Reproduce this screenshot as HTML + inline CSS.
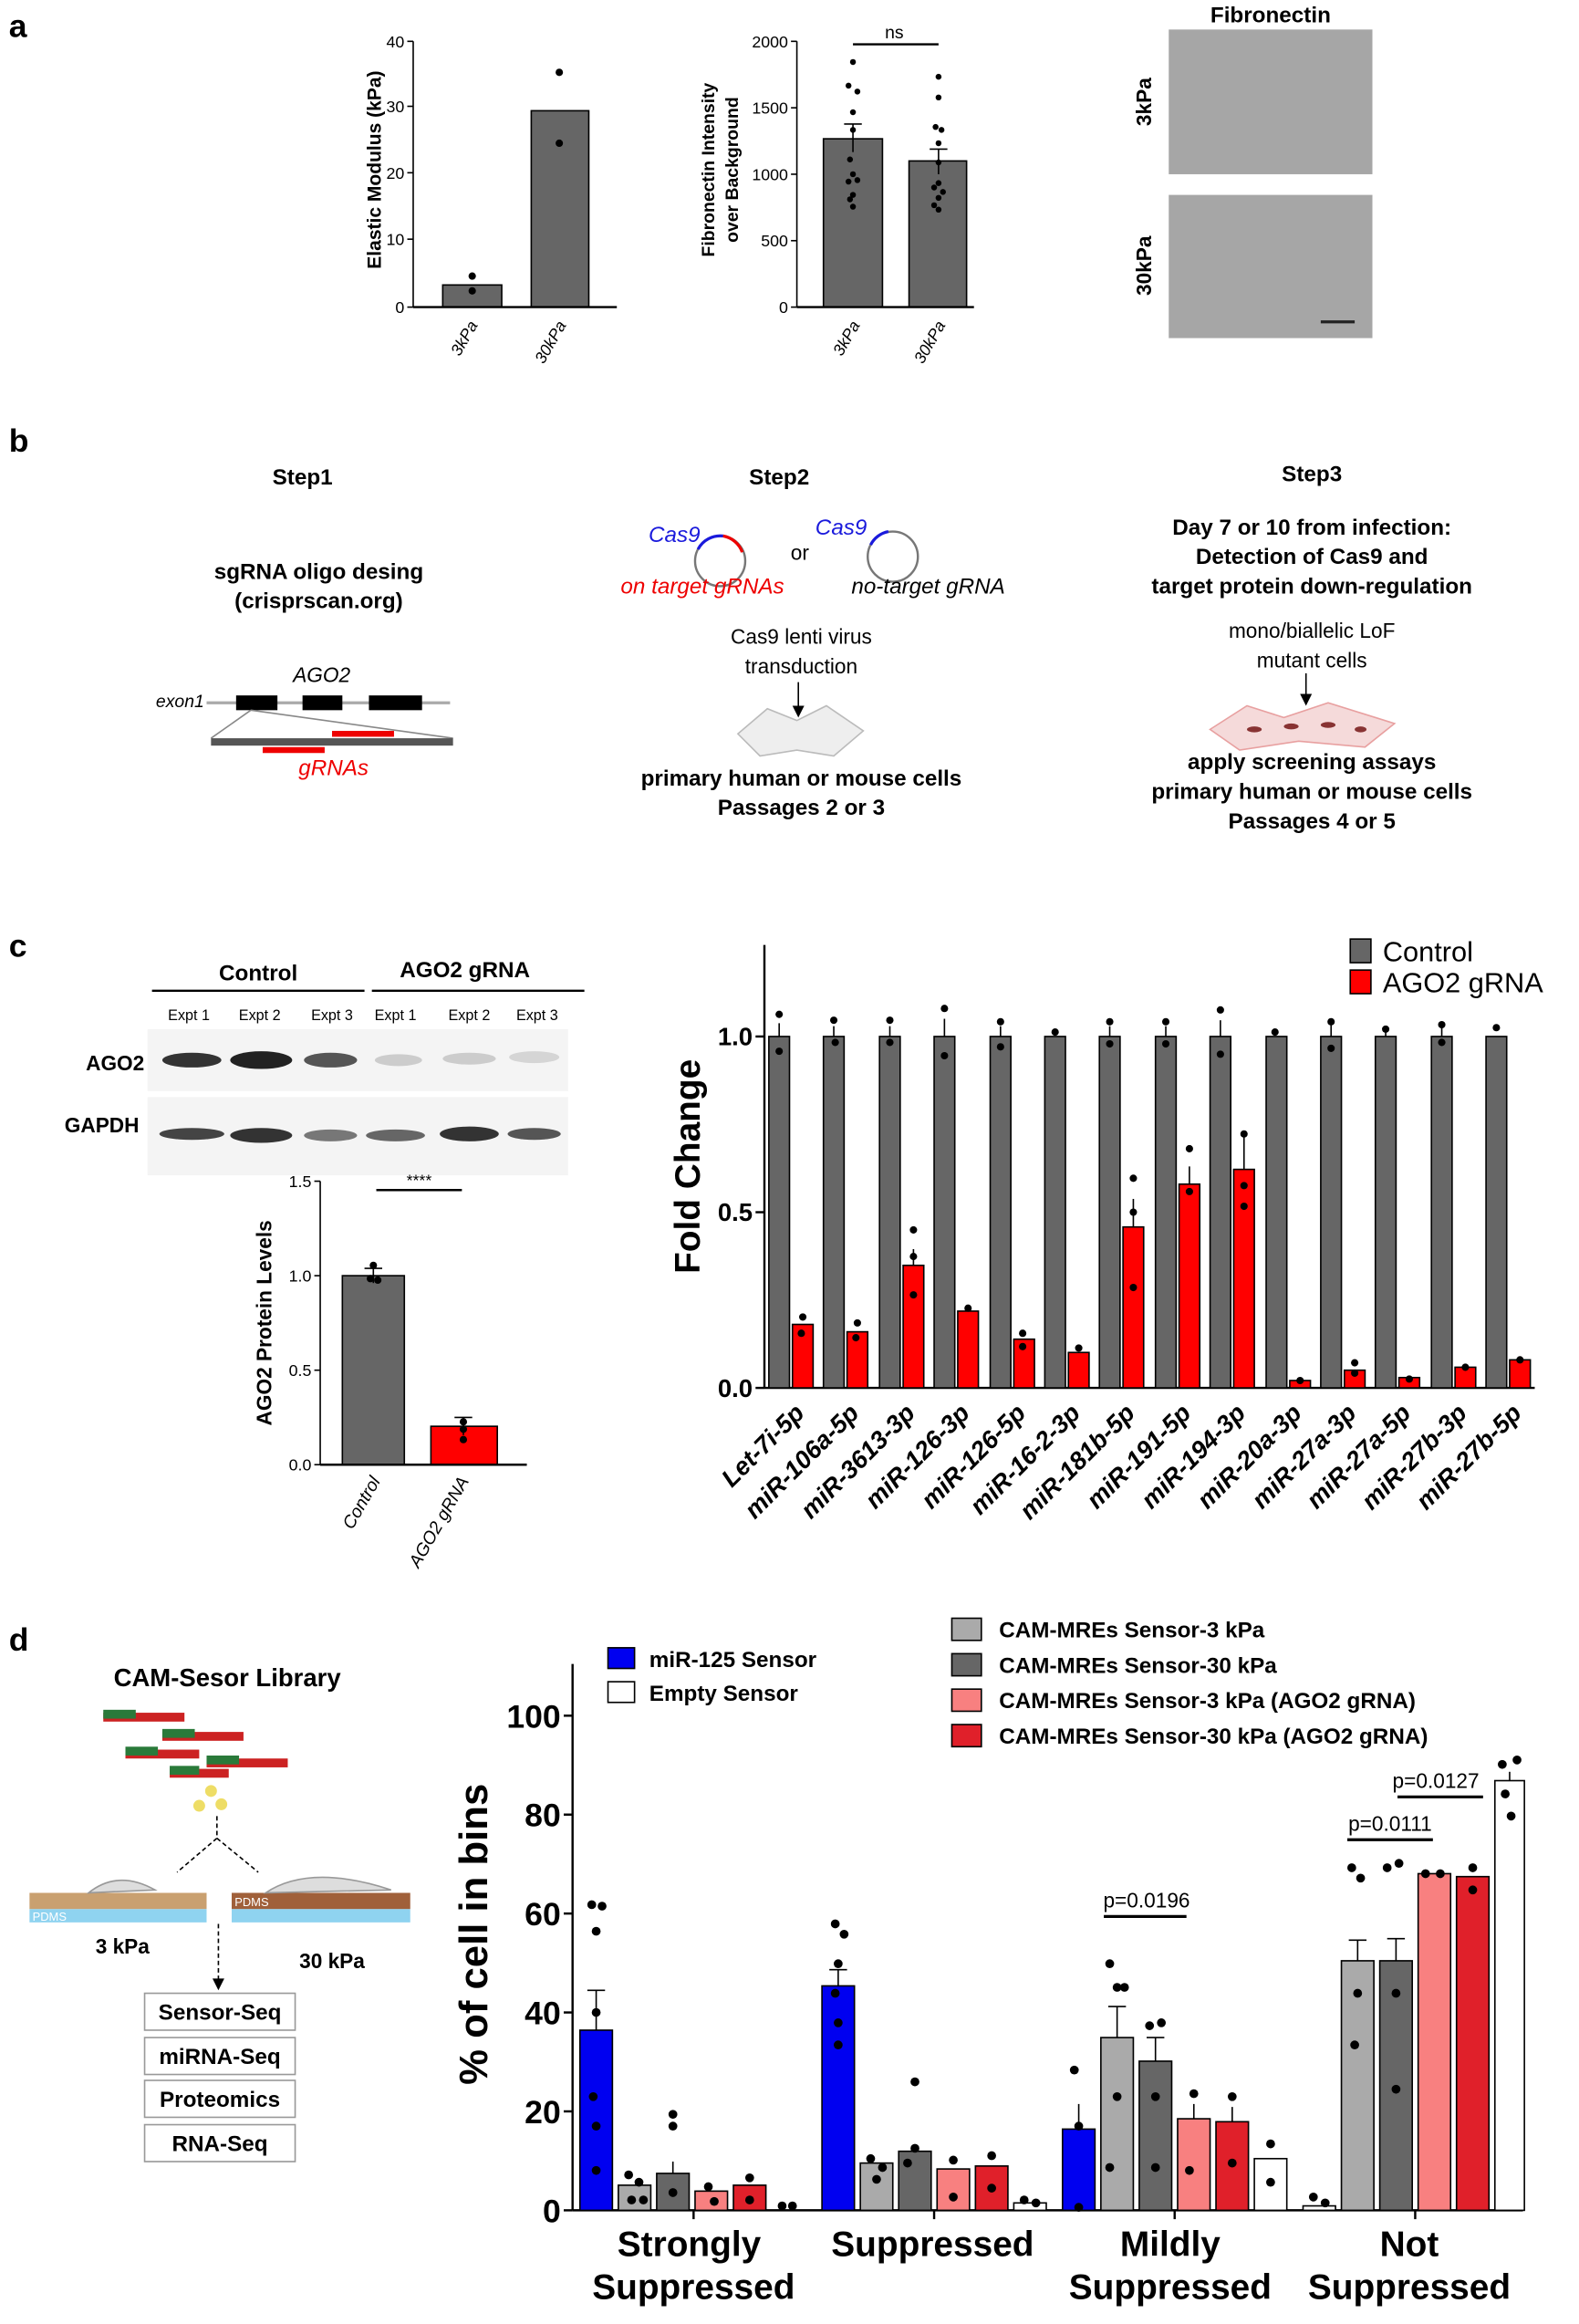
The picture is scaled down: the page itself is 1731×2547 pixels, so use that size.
<!DOCTYPE html>
<html><head><meta charset="utf-8"><style>
html,body{margin:0;padding:0;background:#fff;}
svg{display:block;}
text{font-family:"Liberation Sans",Arial,sans-serif;}
</style></head><body>
<svg width="1731" height="2547" viewBox="0 0 1070 1574" preserveAspectRatio="none" xmlns="http://www.w3.org/2000/svg">
<!-- Panel a -->
<text x="6" y="25" font-size="22" font-weight="bold">a</text>
<g stroke="#000" stroke-width="1">
<line x1="280" y1="28" x2="280" y2="208"/>
<line x1="276" y1="28" x2="280" y2="28"/><line x1="276" y1="72" x2="280" y2="72"/><line x1="276" y1="117" x2="280" y2="117"/><line x1="276" y1="162" x2="280" y2="162"/><line x1="276" y1="208" x2="280" y2="208"/>
</g>
<g font-size="11" text-anchor="end"><text x="274" y="32">40</text><text x="274" y="76">30</text><text x="274" y="121">20</text><text x="274" y="166">10</text><text x="274" y="212">0</text></g>
<rect x="300" y="193" width="40" height="15" fill="#666" stroke="#000"/>
<rect x="360" y="75" width="39" height="133" fill="#666" stroke="#000"/>
<line x1="280" y1="208" x2="418" y2="208" stroke="#000" stroke-width="1.5"/>
<g fill="#000"><circle cx="320" cy="187" r="2.5"/><circle cx="320" cy="197" r="2.5"/><circle cx="379" cy="49" r="2.5"/><circle cx="379" cy="97" r="2.5"/></g>
<text transform="translate(258,115) rotate(-90)" font-size="13" font-weight="bold" text-anchor="middle">Elastic Modulus (kPa)</text>
<text transform="translate(324,220) rotate(-60)" font-size="11" font-style="italic" text-anchor="end">3kPa</text>
<text transform="translate(384,220) rotate(-60)" font-size="11" font-style="italic" text-anchor="end">30kPa</text>

<g stroke="#000" stroke-width="1">
<line x1="540" y1="28" x2="540" y2="208"/>
<line x1="536" y1="28" x2="540" y2="28"/><line x1="536" y1="73" x2="540" y2="73"/><line x1="536" y1="118" x2="540" y2="118"/><line x1="536" y1="163" x2="540" y2="163"/><line x1="536" y1="208" x2="540" y2="208"/>
</g>
<g font-size="11" text-anchor="end"><text x="534" y="32">2000</text><text x="534" y="77">1500</text><text x="534" y="122">1000</text><text x="534" y="167">500</text><text x="534" y="212">0</text></g>
<rect x="558" y="94" width="40" height="114" fill="#666" stroke="#000"/>
<rect x="616" y="109" width="39" height="99" fill="#666" stroke="#000"/>
<line x1="540" y1="208" x2="660" y2="208" stroke="#000" stroke-width="1.5"/>
<g stroke="#000"><line x1="578" y1="84" x2="578" y2="103"/><line x1="572" y1="84" x2="584" y2="84"/><line x1="636" y1="101" x2="636" y2="118"/><line x1="630" y1="101" x2="642" y2="101"/></g>
<g fill="#000"><circle cx="578" cy="42" r="2"/><circle cx="575" cy="58" r="2"/><circle cx="581" cy="62" r="2"/><circle cx="578" cy="76" r="2"/><circle cx="578" cy="88" r="2"/><circle cx="576" cy="108" r="2"/><circle cx="578" cy="118" r="2"/><circle cx="581" cy="122" r="2"/><circle cx="575" cy="123" r="2"/><circle cx="578" cy="132" r="2"/><circle cx="576" cy="135" r="2"/><circle cx="578" cy="140" r="2"/>
<circle cx="636" cy="52" r="2"/><circle cx="636" cy="66" r="2"/><circle cx="634" cy="86" r="2"/><circle cx="638" cy="88" r="2"/><circle cx="636" cy="97" r="2"/><circle cx="636" cy="110" r="2"/><circle cx="636" cy="124" r="2"/><circle cx="633" cy="127" r="2"/><circle cx="639" cy="130" r="2"/><circle cx="636" cy="134" r="2"/><circle cx="633" cy="139" r="2"/><circle cx="636" cy="142" r="2"/></g>
<line x1="578" y1="30" x2="636" y2="30" stroke="#000" stroke-width="1.5"/>
<text x="606" y="26" font-size="12" text-anchor="middle">ns</text>
<text transform="translate(484,115) rotate(-90)" font-size="12" font-weight="bold" text-anchor="middle">Fibronectin Intensity</text>
<text transform="translate(500,115) rotate(-90)" font-size="12" font-weight="bold" text-anchor="middle">over Background</text>
<text transform="translate(583,220) rotate(-60)" font-size="11" font-style="italic" text-anchor="end">3kPa</text>
<text transform="translate(641,220) rotate(-60)" font-size="11" font-style="italic" text-anchor="end">30kPa</text>

<text x="861" y="15" font-size="15" font-weight="bold" text-anchor="middle">Fibronectin</text>
<rect x="792" y="20" width="138" height="98" fill="#a6a6a6"/>
<rect x="792" y="132" width="138" height="97" fill="#a6a6a6"/>
<line x1="895" y1="218" x2="918" y2="218" stroke="#222" stroke-width="2"/>
<text transform="translate(780,69) rotate(-90)" font-size="14" font-weight="bold" text-anchor="middle">3kPa</text>
<text transform="translate(780,180) rotate(-90)" font-size="14" font-weight="bold" text-anchor="middle">30kPa</text>

<!-- Panel b -->
<text x="6" y="306" font-size="22" font-weight="bold">b</text>
<g font-size="15" font-weight="bold" text-anchor="middle">
<text x="205" y="328">Step1</text><text x="528" y="328">Step2</text><text x="889" y="326">Step3</text>
<text x="216" y="392">sgRNA oligo desing</text><text x="216" y="412">(crisprscan.org)</text>
<text x="543" y="532">primary human or mouse cells</text><text x="543" y="552">Passages 2 or 3</text>
<text x="889" y="362">Day 7 or 10 from infection:</text><text x="889" y="382">Detection of Cas9 and</text><text x="889" y="402">target protein down-regulation</text>
<text x="889" y="521">apply screening assays</text><text x="889" y="541">primary human or mouse cells</text><text x="889" y="561">Passages 4 or 5</text>
</g>
<g font-size="14" text-anchor="middle">
<text x="218" y="462" font-style="italic">AGO2</text>
<text x="543" y="436">Cas9 lenti virus</text><text x="543" y="456">transduction</text>
<text x="889" y="432">mono/biallelic LoF</text><text x="889" y="452">mutant cells</text>
<text x="542" y="379">or</text>
</g>
<text x="122" y="479" font-size="12" font-style="italic" text-anchor="middle">exon1</text>
<line x1="140" y1="476" x2="305" y2="476" stroke="#aaa" stroke-width="2"/>
<rect x="160" y="471" width="28" height="10" fill="#000"/><rect x="205" y="471" width="27" height="10" fill="#000"/><rect x="250" y="471" width="36" height="10" fill="#000"/>
<line x1="170" y1="481" x2="143" y2="500" stroke="#888"/><line x1="170" y1="481" x2="307" y2="500" stroke="#888"/>
<rect x="143" y="500" width="164" height="5" fill="#555"/>
<rect x="225" y="495" width="42" height="4" fill="#e00"/><rect x="178" y="506" width="42" height="4" fill="#e00"/>
<text x="226" y="525" font-size="15" font-style="italic" fill="#e00" text-anchor="middle">gRNAs</text>
<text x="457" y="367" font-size="15" font-style="italic" fill="#1a1adc" text-anchor="middle">Cas9</text>
<circle cx="488" cy="380" r="17" fill="none" stroke="#777" stroke-width="1.5"/>
<path d="M473 372 A17 17 0 0 1 490 363" stroke="#1a1adc" stroke-width="2" fill="none"/>
<path d="M490 363 A17 17 0 0 1 503 374" stroke="#e00" stroke-width="2" fill="none"/>
<text x="570" y="362" font-size="15" font-style="italic" fill="#1a1adc" text-anchor="middle">Cas9</text>
<circle cx="605" cy="377" r="17" fill="none" stroke="#777" stroke-width="1.5"/>
<path d="M590 369 A17 17 0 0 1 602 360" stroke="#1a1adc" stroke-width="2" fill="none"/>
<text x="476" y="402" font-size="15" font-style="italic" fill="#e00" text-anchor="middle">on target gRNAs</text>
<text x="629" y="402" font-size="15" font-style="italic" text-anchor="middle">no-target gRNA</text>
<line x1="541" y1="462" x2="541" y2="482" stroke="#000"/><path d="M537 478 L541 486 L545 478Z"/>
<g fill="#eee" stroke="#bbb"><path d="M500 497 L520 480 L540 488 L560 478 L585 495 L565 512 L540 508 L515 512Z"/></g>
<line x1="885" y1="456" x2="885" y2="474" stroke="#000"/><path d="M881 470 L885 478 L889 470Z"/>
<g fill="#f5dada" stroke="#e8a0a0"><path d="M820 494 L845 478 L870 486 L900 476 L945 490 L925 506 L880 502 L840 508Z"/></g>
<g fill="#833"><ellipse cx="850" cy="494" rx="5" ry="2"/><ellipse cx="875" cy="492" rx="5" ry="2"/><ellipse cx="900" cy="491" rx="5" ry="2"/><ellipse cx="922" cy="494" rx="4" ry="2"/></g>

<!-- Panel c blot -->
<text x="6" y="648" font-size="22" font-weight="bold">c</text>
<g font-size="15" font-weight="bold" text-anchor="middle"><text x="175" y="664">Control</text><text x="315" y="662">AGO2 gRNA</text></g>
<line x1="103" y1="671" x2="247" y2="671" stroke="#000" stroke-width="1.5"/><line x1="252" y1="671" x2="396" y2="671" stroke="#000" stroke-width="1.5"/>
<g font-size="10" text-anchor="middle"><text x="128" y="691">Expt 1</text><text x="176" y="691">Expt 2</text><text x="225" y="691">Expt 3</text><text x="268" y="691">Expt 1</text><text x="318" y="691">Expt 2</text><text x="364" y="691">Expt 3</text></g>
<rect x="100" y="697" width="285" height="42" fill="#f4f4f4"/>
<rect x="100" y="743" width="285" height="53" fill="#f4f4f4"/>
<text x="78" y="725" font-size="14" font-weight="bold" text-anchor="middle">AGO2</text>
<text x="69" y="767" font-size="14" font-weight="bold" text-anchor="middle">GAPDH</text>
<g><ellipse cx="130" cy="718" rx="20" ry="5" fill="#333"/><ellipse cx="177" cy="718" rx="21" ry="6" fill="#222"/><ellipse cx="224" cy="718" rx="18" ry="5" fill="#555"/>
<ellipse cx="270" cy="718" rx="16" ry="4" fill="#ccc"/><ellipse cx="318" cy="717" rx="18" ry="4" fill="#ccc"/><ellipse cx="362" cy="716" rx="17" ry="4" fill="#d5d5d5"/>
<ellipse cx="130" cy="768" rx="22" ry="4" fill="#444"/><ellipse cx="177" cy="769" rx="21" ry="5" fill="#333"/><ellipse cx="224" cy="769" rx="18" ry="4" fill="#777"/>
<ellipse cx="268" cy="769" rx="20" ry="4" fill="#666"/><ellipse cx="318" cy="768" rx="20" ry="5" fill="#333"/><ellipse cx="362" cy="768" rx="18" ry="4" fill="#555"/></g>
<!-- small chart -->
<g stroke="#000"><line x1="217" y1="800" x2="217" y2="992"/>
<line x1="213" y1="800" x2="217" y2="800"/><line x1="213" y1="864" x2="217" y2="864"/><line x1="213" y1="928" x2="217" y2="928"/><line x1="213" y1="992" x2="217" y2="992"/></g>
<g font-size="11" text-anchor="end"><text x="211" y="804">1.5</text><text x="211" y="868">1.0</text><text x="211" y="932">0.5</text><text x="211" y="996">0.0</text></g>
<rect x="232" y="864" width="42" height="128" fill="#666" stroke="#000"/>
<rect x="292" y="966" width="45" height="26" fill="#f00" stroke="#000"/>
<line x1="217" y1="992" x2="357" y2="992" stroke="#000" stroke-width="1.5"/>
<g stroke="#000"><line x1="253" y1="859" x2="253" y2="869"/><line x1="247" y1="859" x2="259" y2="859"/><line x1="314" y1="960" x2="314" y2="972"/><line x1="308" y1="960" x2="320" y2="960"/></g>
<g fill="#000"><circle cx="253" cy="857" r="2.5"/><circle cx="251" cy="866" r="2.5"/><circle cx="256" cy="867" r="2.5"/><circle cx="314" cy="963" r="2.5"/><circle cx="314" cy="968" r="2.5"/><circle cx="314" cy="975" r="2.5"/></g>
<line x1="255" y1="806" x2="313" y2="806" stroke="#000" stroke-width="1.5"/>
<text x="284" y="803" font-size="11" text-anchor="middle">****</text>
<text transform="translate(184,896) rotate(-90)" font-size="14" font-weight="bold" text-anchor="middle">AGO2 Protein Levels</text>
<text transform="translate(258,1003) rotate(-60)" font-size="12" font-style="italic" text-anchor="end">Control</text>
<text transform="translate(318,1003) rotate(-60)" font-size="12" font-style="italic" text-anchor="end">AGO2 gRNA</text>

<!-- big chart c -->
<g stroke="#000" stroke-width="1.5"><line x1="518" y1="640" x2="518" y2="940"/><line x1="518" y1="940" x2="1040" y2="940"/>
<line x1="512" y1="702" x2="518" y2="702"/><line x1="512" y1="821" x2="518" y2="821"/><line x1="512" y1="940" x2="518" y2="940"/></g>
<g font-size="17" font-weight="bold" text-anchor="end"><text x="510" y="708">1.0</text><text x="510" y="827">0.5</text><text x="510" y="946">0.0</text></g>
<text transform="translate(474,790) rotate(-90)" font-size="24" font-weight="bold" text-anchor="middle">Fold Change</text>
<g fill="#666" stroke="#000">
<rect x="521" y="702" width="14" height="238"/><rect x="558" y="702" width="14" height="238"/><rect x="596" y="702" width="14" height="238"/><rect x="633" y="702" width="14" height="238"/><rect x="671" y="702" width="14" height="238"/><rect x="708" y="702" width="14" height="238"/><rect x="745" y="702" width="14" height="238"/><rect x="783" y="702" width="14" height="238"/><rect x="820" y="702" width="14" height="238"/><rect x="858" y="702" width="14" height="238"/><rect x="895" y="702" width="14" height="238"/><rect x="932" y="702" width="14" height="238"/><rect x="970" y="702" width="14" height="238"/><rect x="1007" y="702" width="14" height="238"/>
</g>
<g fill="#f00" stroke="#000">
<rect x="537" y="897" width="14" height="43"/><rect x="574" y="902" width="14" height="38"/><rect x="612" y="857" width="14" height="83"/><rect x="649" y="888" width="14" height="52"/><rect x="687" y="907" width="14" height="33"/><rect x="724" y="916" width="14" height="24"/><rect x="761" y="831" width="14" height="109"/><rect x="799" y="802" width="14" height="138"/><rect x="836" y="792" width="14" height="148"/><rect x="874" y="935" width="14" height="5"/><rect x="911" y="928" width="14" height="12"/><rect x="948" y="933" width="14" height="7"/><rect x="986" y="926" width="14" height="14"/><rect x="1023" y="921" width="14" height="19"/>
</g>
<g stroke="#000"><line x1="528" y1="693" x2="528" y2="702"/><line x1="565" y1="695" x2="565" y2="702"/><line x1="603" y1="695" x2="603" y2="702"/><line x1="640" y1="690" x2="640" y2="702"/><line x1="678" y1="695" x2="678" y2="702"/><line x1="752" y1="695" x2="752" y2="702"/><line x1="790" y1="695" x2="790" y2="702"/><line x1="827" y1="691" x2="827" y2="702"/><line x1="902" y1="694" x2="902" y2="702"/><line x1="939" y1="696" x2="939" y2="702"/><line x1="977" y1="696" x2="977" y2="702"/>
<line x1="619" y1="846" x2="619" y2="857"/><line x1="768" y1="812" x2="768" y2="831"/><line x1="806" y1="790" x2="806" y2="802"/><line x1="843" y1="766" x2="843" y2="792"/></g>
<g fill="#000">
<circle cx="528" cy="687" r="2.5"/><circle cx="528" cy="712" r="2.5"/><circle cx="565" cy="691" r="2.5"/><circle cx="566" cy="706" r="2.5"/><circle cx="603" cy="691" r="2.5"/><circle cx="603" cy="706" r="2.5"/><circle cx="640" cy="683" r="2.5"/><circle cx="640" cy="715" r="2.5"/><circle cx="678" cy="692" r="2.5"/><circle cx="678" cy="709" r="2.5"/><circle cx="715" cy="699" r="2.5"/><circle cx="752" cy="692" r="2.5"/><circle cx="752" cy="707" r="2.5"/><circle cx="790" cy="692" r="2.5"/><circle cx="790" cy="707" r="2.5"/><circle cx="827" cy="684" r="2.5"/><circle cx="827" cy="714" r="2.5"/><circle cx="864" cy="699" r="2.5"/><circle cx="902" cy="692" r="2.5"/><circle cx="902" cy="710" r="2.5"/><circle cx="939" cy="697" r="2.5"/><circle cx="977" cy="694" r="2.5"/><circle cx="977" cy="706" r="2.5"/><circle cx="1014" cy="696" r="2.5"/>
<circle cx="544" cy="892" r="2.5"/><circle cx="543" cy="903" r="2.5"/><circle cx="581" cy="896" r="2.5"/><circle cx="580" cy="906" r="2.5"/><circle cx="619" cy="833" r="2.5"/><circle cx="619" cy="851" r="2.5"/><circle cx="619" cy="877" r="2.5"/><circle cx="656" cy="886" r="2.5"/><circle cx="693" cy="903" r="2.5"/><circle cx="693" cy="912" r="2.5"/><circle cx="731" cy="913" r="2.5"/><circle cx="768" cy="798" r="2.5"/><circle cx="768" cy="821" r="2.5"/><circle cx="768" cy="872" r="2.5"/><circle cx="806" cy="778" r="2.5"/><circle cx="806" cy="807" r="2.5"/><circle cx="843" cy="768" r="2.5"/><circle cx="843" cy="803" r="2.5"/><circle cx="843" cy="817" r="2.5"/><circle cx="881" cy="935" r="2.5"/><circle cx="918" cy="923" r="2.5"/><circle cx="918" cy="930" r="2.5"/><circle cx="955" cy="934" r="2.5"/><circle cx="993" cy="926" r="2.5"/><circle cx="1030" cy="921" r="2.5"/>
</g>
<g font-size="17" font-weight="bold" font-style="italic" text-anchor="end">
<text transform="translate(546,958) rotate(-45)">Let-7i-5p</text>
<text transform="translate(583,958) rotate(-45)">miR-106a-5p</text>
<text transform="translate(621,958) rotate(-45)">miR-3613-3p</text>
<text transform="translate(658,958) rotate(-45)">miR-126-3p</text>
<text transform="translate(696,958) rotate(-45)">miR-126-5p</text>
<text transform="translate(733,958) rotate(-45)">miR-16-2-3p</text>
<text transform="translate(770,958) rotate(-45)">miR-181b-5p</text>
<text transform="translate(808,958) rotate(-45)">miR-191-5p</text>
<text transform="translate(845,958) rotate(-45)">miR-194-3p</text>
<text transform="translate(883,958) rotate(-45)">miR-20a-3p</text>
<text transform="translate(920,958) rotate(-45)">miR-27a-3p</text>
<text transform="translate(957,958) rotate(-45)">miR-27a-5p</text>
<text transform="translate(995,958) rotate(-45)">miR-27b-3p</text>
<text transform="translate(1032,958) rotate(-45)">miR-27b-5p</text>
</g>
<rect x="915" y="636" width="14" height="16" fill="#666" stroke="#000"/><text x="937" y="651" font-size="19">Control</text>
<rect x="915" y="657" width="14" height="16" fill="#f00" stroke="#000"/><text x="937" y="672" font-size="19">AGO2 gRNA</text>

<!-- Panel d -->
<text x="6" y="1118" font-size="22" font-weight="bold">d</text>
<text x="154" y="1142" font-size="17" font-weight="bold" text-anchor="middle">CAM-Sesor Library</text>
<g><rect x="70" y="1160" width="55" height="6" fill="#c22"/><rect x="70" y="1158" width="22" height="6" fill="#2a7a3a"/>
<rect x="110" y="1173" width="55" height="6" fill="#c22"/><rect x="110" y="1171" width="22" height="6" fill="#2a7a3a"/>
<rect x="85" y="1185" width="50" height="6" fill="#c22"/><rect x="85" y="1183" width="22" height="6" fill="#2a7a3a"/>
<rect x="140" y="1191" width="55" height="6" fill="#c22"/><rect x="140" y="1189" width="22" height="6" fill="#2a7a3a"/>
<rect x="115" y="1198" width="40" height="6" fill="#c22"/><rect x="115" y="1196" width="20" height="6" fill="#2a7a3a"/></g>
<g fill="#eedd66"><circle cx="143" cy="1213" r="4"/><circle cx="135" cy="1223" r="4"/><circle cx="150" cy="1222" r="4"/></g>
<path d="M147 1230 L147 1245 M147 1245 L120 1268 M147 1245 L175 1268 M148 1303 L148 1343" stroke="#000" stroke-dasharray="3,2" fill="none"/>
<path d="M144 1340 L148 1348 L152 1340Z"/>
<rect x="20" y="1282" width="120" height="11" fill="#c9a070"/><rect x="20" y="1293" width="120" height="9" fill="#8fd3f0"/>
<rect x="157" y="1282" width="121" height="11" fill="#a0603a"/><rect x="157" y="1293" width="121" height="9" fill="#8fd3f0"/>
<path d="M60 1282 Q80 1266 105 1280Z" fill="#ddd" stroke="#999"/><path d="M180 1282 Q210 1262 265 1280Z" fill="#ddd" stroke="#999"/>
<text x="22" y="1301" font-size="8" fill="#fff">PDMS</text><text x="159" y="1291" font-size="8" fill="#fff">PDMS</text>
<text x="83" y="1323" font-size="14" font-weight="bold" text-anchor="middle">3 kPa</text>
<text x="225" y="1333" font-size="14" font-weight="bold" text-anchor="middle">30 kPa</text>
<g fill="#fff" stroke="#999"><rect x="98" y="1350" width="102" height="25"/><rect x="98" y="1380" width="102" height="25"/><rect x="98" y="1409" width="102" height="25"/><rect x="98" y="1439" width="102" height="25"/></g>
<g font-size="15" font-weight="bold" text-anchor="middle"><text x="149" y="1368">Sensor-Seq</text><text x="149" y="1398">miRNA-Seq</text><text x="149" y="1427">Proteomics</text><text x="149" y="1457">RNA-Seq</text></g>

<g stroke="#000" stroke-width="1.5"><line x1="388" y1="1127" x2="388" y2="1497"/><line x1="388" y1="1497" x2="1032" y2="1497"/>
<line x1="382" y1="1162" x2="388" y2="1162"/><line x1="382" y1="1229" x2="388" y2="1229"/><line x1="382" y1="1296" x2="388" y2="1296"/><line x1="382" y1="1363" x2="388" y2="1363"/><line x1="382" y1="1430" x2="388" y2="1430"/><line x1="382" y1="1497" x2="388" y2="1497"/>
<line x1="470" y1="1497" x2="470" y2="1503"/><line x1="633" y1="1497" x2="633" y2="1503"/><line x1="796" y1="1497" x2="796" y2="1503"/><line x1="959" y1="1497" x2="959" y2="1503"/></g>
<g font-size="22" font-weight="bold" text-anchor="end"><text x="380" y="1170">100</text><text x="380" y="1237">80</text><text x="380" y="1304">60</text><text x="380" y="1371">40</text><text x="380" y="1438">20</text><text x="380" y="1505">0</text></g>
<text transform="translate(330,1310) rotate(-90)" font-size="27" font-weight="bold" text-anchor="middle">% of cell in bins</text>
<g stroke="#000">
<rect x="393" y="1375" width="22" height="122" fill="#0000f0"/><rect x="419" y="1480" width="22" height="17" fill="#aaa"/><rect x="445" y="1472" width="22" height="25" fill="#666"/><rect x="471" y="1484" width="22" height="13" fill="#f88080"/><rect x="497" y="1480" width="22" height="17" fill="#e0202a"/>
<rect x="557" y="1345" width="22" height="152" fill="#0000f0"/><rect x="583" y="1465" width="22" height="32" fill="#aaa"/><rect x="609" y="1457" width="22" height="40" fill="#666"/><rect x="635" y="1469" width="22" height="28" fill="#f88080"/><rect x="661" y="1467" width="22" height="30" fill="#e0202a"/><rect x="687" y="1492" width="22" height="5" fill="#fff"/>
<rect x="720" y="1442" width="22" height="55" fill="#0000f0"/><rect x="746" y="1380" width="22" height="117" fill="#aaa"/><rect x="772" y="1396" width="22" height="101" fill="#666"/><rect x="798" y="1435" width="22" height="62" fill="#f88080"/><rect x="824" y="1437" width="22" height="60" fill="#e0202a"/><rect x="850" y="1462" width="22" height="35" fill="#fff"/>
<rect x="883" y="1494" width="22" height="3" fill="#fff"/><rect x="909" y="1328" width="22" height="169" fill="#aaa"/><rect x="935" y="1328" width="22" height="169" fill="#666"/><rect x="961" y="1269" width="22" height="228" fill="#f88080"/><rect x="987" y="1271" width="22" height="226" fill="#e0202a"/><rect x="1013" y="1206" width="20" height="291" fill="#fff"/>
</g>
<g stroke="#000"><line x1="404" y1="1348" x2="404" y2="1375"/><line x1="398" y1="1348" x2="410" y2="1348"/><line x1="456" y1="1464" x2="456" y2="1472"/><line x1="568" y1="1334" x2="568" y2="1345"/><line x1="562" y1="1334" x2="574" y2="1334"/><line x1="731" y1="1425" x2="731" y2="1442"/><line x1="757" y1="1359" x2="757" y2="1380"/><line x1="751" y1="1359" x2="763" y2="1359"/><line x1="783" y1="1380" x2="783" y2="1396"/><line x1="777" y1="1380" x2="789" y2="1380"/><line x1="809" y1="1425" x2="809" y2="1435"/><line x1="835" y1="1427" x2="835" y2="1437"/><line x1="920" y1="1314" x2="920" y2="1328"/><line x1="914" y1="1314" x2="926" y2="1314"/><line x1="946" y1="1313" x2="946" y2="1328"/><line x1="940" y1="1313" x2="952" y2="1313"/><line x1="1023" y1="1200" x2="1023" y2="1206"/></g>
<g fill="#000">
<circle cx="401" cy="1290" r="3"/><circle cx="408" cy="1291" r="3"/><circle cx="404" cy="1308" r="3"/><circle cx="404" cy="1363" r="3"/><circle cx="402" cy="1420" r="3"/><circle cx="404" cy="1440" r="3"/><circle cx="404" cy="1470" r="3"/>
<circle cx="426" cy="1473" r="3"/><circle cx="433" cy="1478" r="3"/><circle cx="428" cy="1490" r="3"/><circle cx="436" cy="1490" r="3"/><circle cx="456" cy="1432" r="3"/><circle cx="456" cy="1440" r="3"/><circle cx="456" cy="1485" r="3"/><circle cx="480" cy="1481" r="3"/><circle cx="484" cy="1491" r="3"/><circle cx="508" cy="1475" r="3"/><circle cx="508" cy="1490" r="3"/><circle cx="530" cy="1494" r="3"/><circle cx="537" cy="1494" r="3"/>
<circle cx="566" cy="1303" r="3"/><circle cx="572" cy="1310" r="3"/><circle cx="568" cy="1330" r="3"/><circle cx="566" cy="1350" r="3"/><circle cx="568" cy="1370" r="3"/><circle cx="568" cy="1385" r="3"/><circle cx="590" cy="1462" r="3"/><circle cx="598" cy="1468" r="3"/><circle cx="594" cy="1476" r="3"/><circle cx="620" cy="1410" r="3"/><circle cx="620" cy="1455" r="3"/><circle cx="615" cy="1465" r="3"/><circle cx="646" cy="1463" r="3"/><circle cx="646" cy="1488" r="3"/><circle cx="672" cy="1460" r="3"/><circle cx="672" cy="1482" r="3"/><circle cx="694" cy="1490" r="3"/><circle cx="702" cy="1492" r="3"/>
<circle cx="728" cy="1402" r="3"/><circle cx="731" cy="1440" r="3"/><circle cx="731" cy="1495" r="3"/><circle cx="752" cy="1330" r="3"/><circle cx="757" cy="1346" r="3"/><circle cx="762" cy="1346" r="3"/><circle cx="757" cy="1420" r="3"/><circle cx="752" cy="1468" r="3"/><circle cx="779" cy="1372" r="3"/><circle cx="787" cy="1370" r="3"/><circle cx="783" cy="1420" r="3"/><circle cx="783" cy="1468" r="3"/><circle cx="809" cy="1418" r="3"/><circle cx="806" cy="1470" r="3"/><circle cx="835" cy="1420" r="3"/><circle cx="835" cy="1465" r="3"/><circle cx="861" cy="1452" r="3"/><circle cx="861" cy="1478" r="3"/>
<circle cx="890" cy="1488" r="3"/><circle cx="898" cy="1492" r="3"/><circle cx="916" cy="1265" r="3"/><circle cx="922" cy="1272" r="3"/><circle cx="920" cy="1350" r="3"/><circle cx="918" cy="1385" r="3"/><circle cx="940" cy="1265" r="3"/><circle cx="948" cy="1262" r="3"/><circle cx="946" cy="1350" r="3"/><circle cx="946" cy="1415" r="3"/><circle cx="966" cy="1269" r="3"/><circle cx="976" cy="1269" r="3"/><circle cx="998" cy="1265" r="3"/><circle cx="998" cy="1280" r="3"/><circle cx="1018" cy="1195" r="3"/><circle cx="1028" cy="1192" r="3"/><circle cx="1020" cy="1215" r="3"/><circle cx="1024" cy="1230" r="3"/>
</g>
<g stroke="#000" stroke-width="2"><line x1="748" y1="1298" x2="804" y2="1298"/><line x1="913" y1="1246" x2="971" y2="1246"/><line x1="947" y1="1217" x2="1005" y2="1217"/></g>
<g font-size="14" text-anchor="middle"><text x="777" y="1292">p=0.0196</text><text x="942" y="1240">p=0.0111</text><text x="973" y="1211">p=0.0127</text></g>
<g font-size="24" font-weight="bold" text-anchor="middle">
<text x="467" y="1528">Strongly</text><text x="470" y="1557">Suppressed</text>
<text x="632" y="1528">Suppressed</text>
<text x="793" y="1528">Mildly</text><text x="793" y="1557">Suppressed</text>
<text x="955" y="1528">Not</text><text x="955" y="1557">Suppressed</text>
</g>
<rect x="412" y="1116" width="18" height="14" fill="#0000f0" stroke="#000"/><text x="440" y="1129" font-size="15" font-weight="bold">miR-125 Sensor</text>
<rect x="412" y="1139" width="18" height="14" fill="#fff" stroke="#000"/><text x="440" y="1152" font-size="15" font-weight="bold">Empty Sensor</text>
<g stroke="#000"><rect x="645" y="1096" width="20" height="15" fill="#aaa"/><rect x="645" y="1120" width="20" height="15" fill="#666"/><rect x="645" y="1144" width="20" height="15" fill="#f88080"/><rect x="645" y="1168" width="20" height="15" fill="#e0202a"/></g>
<g font-size="15" font-weight="bold"><text x="677" y="1109">CAM-MREs Sensor-3 kPa</text><text x="677" y="1133">CAM-MREs Sensor-30 kPa</text><text x="677" y="1157">CAM-MREs Sensor-3 kPa (AGO2 gRNA)</text><text x="677" y="1181">CAM-MREs Sensor-30 kPa (AGO2 gRNA)</text></g>
</svg>
</body></html>
